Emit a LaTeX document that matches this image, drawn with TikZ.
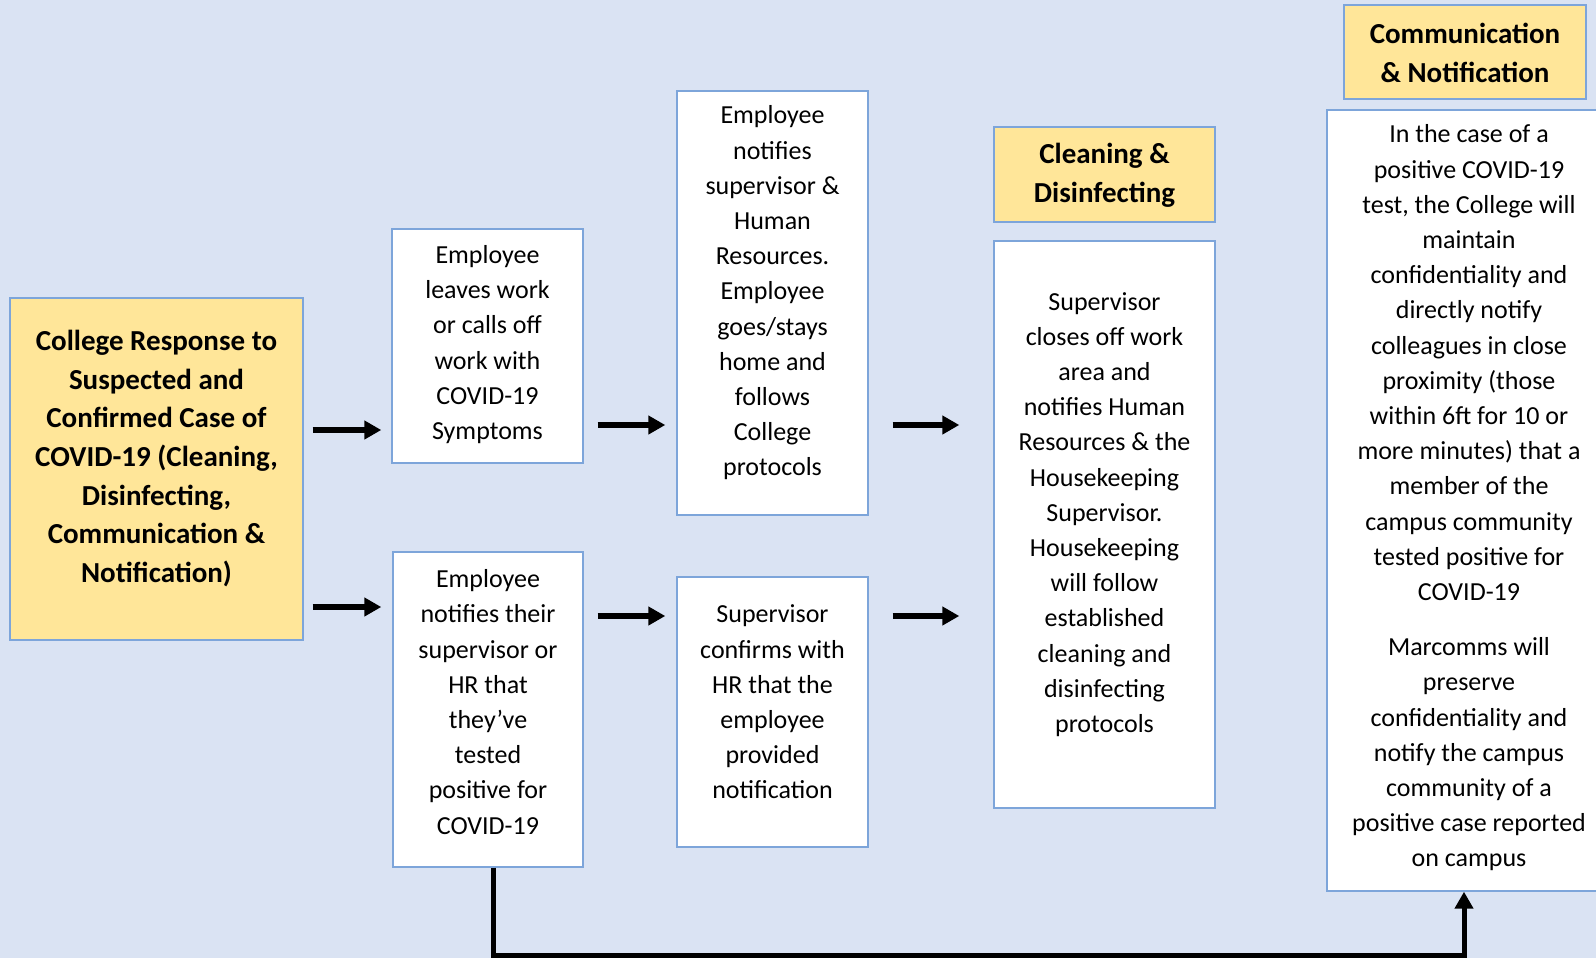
\documentclass[tikz,border=0pt]{standalone}
\usepackage{fontspec}
\setmainfont{Carlito}
\usetikzlibrary{arrows.meta}
\definecolor{bgblue}{RGB}{218,227,243}
\definecolor{headyellow}{RGB}{255,230,153}
\definecolor{edgeblue}{RGB}{125,165,218}
\begin{document}
\begin{tikzpicture}[x=0.5pt,y=-0.5pt,
  box/.style={draw=edgeblue,fill=white,line width=0.7pt,inner sep=0pt},
  headbox/.style={box,fill=headyellow},
  txt/.style={align=center,inner sep=0pt,font=\fontsize{13}{17.6}\selectfont},
  headtxt/.style={txt,font=\bfseries\fontsize{14.5}{19.3}\selectfont},
  arr/.style={line width=3pt,-{Triangle[length=8.5pt,width=9pt]}}]
\fill[bgblue] (0,0) rectangle (1596,958);
\useasboundingbox (0,0) rectangle (1596,958);
\node [headbox,minimum width=146.5pt,minimum height=171pt] (main) at (156.5,469) {};
\node [box,minimum width=95.5pt,minimum height=117pt] (leave) at (487.5,346) {};
\node [box,minimum width=95.5pt,minimum height=212pt] (notify) at (772.5,303) {};
\node [box,minimum width=95pt,minimum height=157.5pt] (tested) at (488,709.5) {};
\node [box,minimum width=95.5pt,minimum height=135pt] (confirm) at (772.5,712) {};
\node [headbox,minimum width=110.5pt,minimum height=47.5pt] (cleanhead) at (1104.5,174.5) {};
\node [box,minimum width=110.5pt,minimum height=283.5pt] (clean) at (1104.5,524.5) {};
\node [headbox,minimum width=121pt,minimum height=47pt] (commhead) at (1465,52) {};
\node [box,minimum width=135.5pt,minimum height=390.5pt] (comm) at (1462.5,500.5) {};
\node [headtxt] (maintxt) at (156.5,458.5) {College Response to\\Suspected and\\Confirmed Case of\\COVID-19 (Cleaning,\\Disinfecting,\\Communication \&\\Notification)};
\node [txt] (leavetxt) at (487.5,344.5) {Employee\\leaves work\\or calls off\\work with\\COVID-19\\Symptoms};
\node [txt] (notifytxt) at (772.5,293) {Employee\\notifies\\supervisor \&\\Human\\Resources.\\Employee\\goes/stays\\home and\\follows\\College\\protocols};
\node [txt] (testedtxt) at (488,702) {Employee\\notifies their\\supervisor or\\HR that\\they’ve\\tested\\positive for\\COVID-19};
\node [txt] (confirmtxt) at (772.5,702) {Supervisor\\confirms with\\HR that the\\employee\\provided\\notification};
\node [headtxt] (cleanheadtxt) at (1104.5,175.5) {Cleaning \&\\Disinfecting};
\node [txt] (cleantxt) at (1104.5,514.5) {Supervisor\\closes off work\\area and\\notifies Human\\Resources \& the\\Housekeeping\\Supervisor.\\Housekeeping\\will follow\\established\\cleaning and\\disinfecting\\protocols};
\node [headtxt] (commheadtxt) at (1465,53) {Communication\\\& Notification};
\node [txt] (commtxt) at (1469,498) {In the case of a\\positive COVID-19\\test, the College will\\maintain\\confidentiality and\\directly notify\\colleagues in close\\proximity (those\\within 6ft for 10 or\\more minutes) that a\\member of the\\campus community\\tested positive for\\COVID-19\\[10pt]Marcomms will\\preserve\\confidentiality and\\notify the campus\\community of a\\positive case reported\\on campus};
\coordinate (rowa) at (0,430);
\coordinate (rowb) at (0,425);
\coordinate (rowc) at (0,607);
\coordinate (rowd) at (0,616);
\coordinate (low) at (1464,955);
\draw [arr,shorten <=4.5pt,shorten >=5pt] (main.east |- rowa) -- (leave.west |- rowa);
\draw [arr,shorten <=7pt,shorten >=5.5pt] (leave.east |- rowb) -- (notify.west |- rowb);
\draw [arr,shorten <=12pt,shorten >=17pt] (notify.east |- rowb) -- (clean.west |- rowb);
\draw [arr,shorten <=4.5pt,shorten >=5.5pt] (main.east |- rowc) -- (tested.west |- rowc);
\draw [arr,shorten <=7pt,shorten >=5.5pt] (tested.east |- rowd) -- (confirm.west |- rowd);
\draw [arr,shorten <=12pt,shorten >=17pt] (confirm.east |- rowd) -- (clean.west |- rowd);
\draw [arr,line width=2.5pt] ([xshift=2.5pt]tested.south) |- (low) -- (low |- comm.south);
\end{tikzpicture}
\end{document}
